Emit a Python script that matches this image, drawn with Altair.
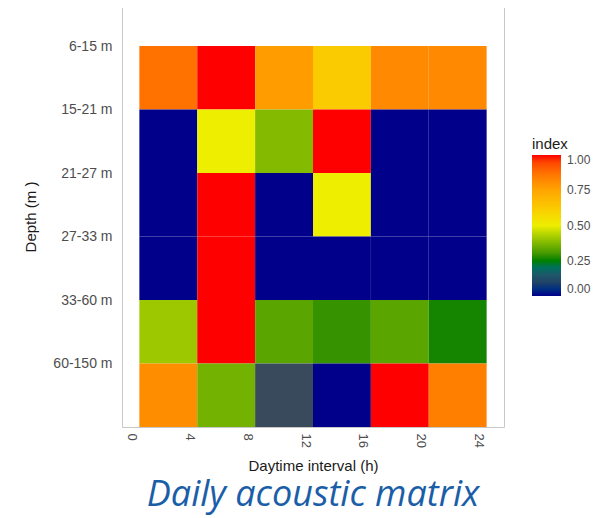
import altair as alt
import pandas as pd

depths = ["6-15 m", "15-21 m", "21-27 m", "27-33 m", "33-60 m", "60-150 m"]
hour_start = [0, 4, 8, 12, 16, 20]
hour_ticks = [0, 4, 8, 12, 16, 20, 24]
# index per depth row (top to bottom), per 4-h interval
idx_6_15 = [0.87, 1.00, 0.77, 0.62, 0.82, 0.82]
idx_15_21 = [0.00, 0.50, 0.38, 1.00, 0.00, 0.00]
idx_21_27 = [0.00, 1.00, 0.00, 0.50, 0.00, 0.00]
idx_27_33 = [0.00, 1.00, 0.00, 0.00, 0.00, 0.00]
idx_33_60 = [0.41, 1.00, 0.33, 0.29, 0.33, 0.26]
idx_60_150 = [0.81, 0.36, 0.12, 0.00, 1.00, 0.84]
rows = [idx_6_15, idx_15_21, idx_21_27, idx_27_33, idx_33_60, idx_60_150]

records = []
for r, vals in enumerate(rows):
    for h, v in zip(hour_start, vals):
        records.append({"h0": h, "h1": h + 4, "d0": r, "d1": r + 1, "index": v})
df = pd.DataFrame(records)

label_expr = "[" + ",".join("'" + d + "'" for d in depths) + "][datum.value]"

color_scale = alt.Scale(
    type="linear",
    domain=[0, 0.125, 0.25, 0.5, 0.75, 1.0],
    range=["#00008B", "#3D4B58", "#008000", "#EEEE00", "#FFA500", "#FF0000"],
)

chart = (
    alt.Chart(df)
    .mark_rect()
    .encode(
        x=alt.X(
            "h0:Q",
            scale=alt.Scale(domain=[-1.2, 25.2], nice=False, zero=False),
            axis=alt.Axis(
                values=hour_ticks,
                labelAngle=90,
                labelOffset=-8,
                labelPadding=6,
                title="Daytime interval (h)",
                titlePadding=11,
            ),
        ),
        x2="h1:Q",
        y=alt.Y(
            "d0:Q",
            scale=alt.Scale(domain=[-0.63, 6], nice=False, zero=False, reverse=True),
            axis=alt.Axis(
                values=[0, 1, 2, 3, 4, 5],
                labelExpr=label_expr,
                labelPadding=10,
                title="Depth (m )",
                titlePadding=14,
            ),
        ),
        y2="d1:Q",
        color=alt.Color(
            "index:Q",
            scale=color_scale,
            legend=alt.Legend(
                title="index",
                orient="none",
                legendX=410,
                legendY=131,
                direction="vertical",
                gradientLength=141,
                gradientThickness=29,
                values=[0, 0.25, 0.5, 0.75, 1.0],
                format=".2f",
                labelFontSize=12,
                labelColor="#4D4D4D",
                labelOffset=6,
                titleFontSize=15,
                titleFontWeight="normal",
                titleColor="#1A1A1A",
                titlePadding=3,
                gradientStrokeWidth=0,
            ),
        ),
    )
    .properties(
        width=382,
        height=421,
        autosize=alt.AutoSizeParams(type="none"),
        padding={"left": 114, "top": -2, "right": 89, "bottom": 100},
        title=alt.TitleParams(
            "Daily acoustic matrix",
            orient="bottom",
            anchor="middle",
            font="Open Sans",
            fontStyle="italic",
            fontWeight="normal",
            fontSize=36,
            color="#1B5EA8",
            offset=5,
        ),
    )
    .configure_view(stroke="#C8C8C8", strokeWidth=1)
    .configure_axis(
        grid=False,
        ticks=False,
        domain=False,
        labelFont="Liberation Sans",
        labelFontSize=14,
        labelColor="#4D4D4D",
        titleFont="Liberation Sans",
        titleFontSize=15,
        titleFontWeight="normal",
        titleColor="#1A1A1A",
    )
    .configure_axisX(labelFontSize=13)
    .configure_legend(labelFont="Liberation Sans", titleFont="Liberation Sans")
)

chart.save("out.html", embed_options={"renderer": "svg", "actions": False})
